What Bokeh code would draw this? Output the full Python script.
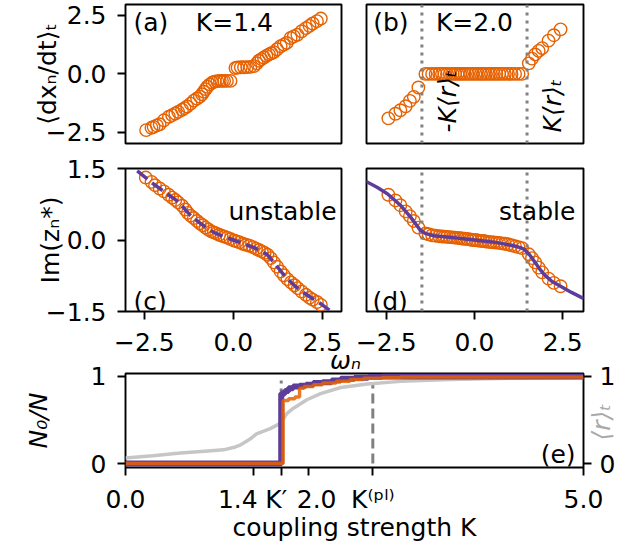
import json
import numpy as np
from bokeh.plotting import figure
from bokeh.layouts import column, row
from bokeh.models import Range1d, FixedTicker, CustomJSTickFormatter, LinearAxis
from bokeh.embed import file_html
from bokeh.resources import INLINE
from bokeh.core.properties import value

FONT = "DejaVu Sans"
FS = "25px"
ORANGE = "#e66101"
PURPLE = "#5e3c99"
GREY = "#808080"
LGREY = "#c6c6c6"

# ---------------- data ----------------
# panel (a): K = 1.4
omega_a = [-2.45, -2.30, -2.24, -2.15, -2.07, -1.95, -1.81, -1.72, -1.63, -1.55, -1.44, -1.37,
           -1.30, -1.20, -1.11, -1.02, -0.94, -0.88, -0.83, -0.78, -0.73, -0.66, -0.59, -0.52,
           -0.45, -0.38, -0.32, -0.26, -0.18, -0.08, 0.06, 0.12, 0.21, 0.30, 0.39, 0.48, 0.58,
           0.66, 0.72, 0.79, 0.86, 0.93, 1.00, 1.07, 1.14, 1.23, 1.33, 1.42, 1.50, 1.61, 1.70,
           1.80, 1.92, 2.04, 2.14, 2.23, 2.35, 2.46]
dxdt_a = [-2.40, -2.30, -2.26, -2.20, -2.15, -1.98, -1.83, -1.76, -1.69, -1.62, -1.53, -1.46,
          -1.39, -1.27, -1.14, -1.05, -0.97, -0.87, -0.76, -0.65, -0.55, -0.45, -0.37, -0.33,
          -0.31, -0.30, -0.30, -0.30, -0.30, -0.30, 0.25, 0.27, 0.28, 0.28, 0.29, 0.30, 0.33,
          0.45, 0.56, 0.63, 0.70, 0.77, 0.83, 0.88, 0.93, 1.05, 1.18, 1.25, 1.32, 1.53, 1.60,
          1.67, 1.82, 1.95, 2.05, 2.15, 2.25, 2.36]

# panels (b), (d): K = 2.0
omega_b = [-2.44, -2.24, -2.10, -1.95, -1.83, -1.72, -1.59,
           -1.39, -1.30, -1.20, -1.10, -1.00, -0.92, -0.85, -0.78, -0.70, -0.62, -0.55, -0.48,
           -0.41, -0.35, -0.28, -0.20, -0.12, -0.05, 0.03, 0.10, 0.18, 0.25, 0.32, 0.40, 0.47,
           0.55, 0.62, 0.70, 0.78, 0.86, 0.95, 1.05, 1.15, 1.25, 1.35,
           1.54, 1.63, 1.72, 1.82, 1.92, 2.10, 2.25, 2.44]
dxdt_b = [-1.90, -1.70, -1.55, -1.38, -1.15, -0.98, -0.58,
          0.0, 0.0, 0.0, 0.0, 0.0, 0.0, 0.0, 0.0, 0.0, 0.0, 0.0, 0.0,
          0.0, 0.0, 0.0, 0.0, 0.0, 0.0, 0.0, 0.0, 0.0, 0.0, 0.0, 0.0, 0.0,
          0.0, 0.0, 0.0, 0.0, 0.0, 0.0, 0.0, 0.0, 0.0, 0.0,
          0.45, 0.65, 0.83, 0.98, 1.10, 1.42, 1.65, 1.90]
im_d = [0.95, 0.83, 0.73, 0.60, 0.50, 0.40, 0.26,
        0.14, 0.12, 0.10, 0.09, 0.08, 0.075, 0.07, 0.065, 0.06, 0.055, 0.05, 0.045,
        0.04, 0.03, 0.025, 0.02, 0.01, 0.0, 0.0, -0.01, -0.02, -0.02, -0.03, -0.04, -0.045,
        -0.05, -0.055, -0.06, -0.07, -0.08, -0.09, -0.11, -0.13, -0.15, -0.17,
        -0.30, -0.38, -0.47, -0.58, -0.68, -0.81, -0.90, -0.97]
K_r_b = 1.49

# panel (c): unstable fixed point, K = 1.4
omega_c = [-2.46, -2.30, -2.20, -2.07, -1.95, -1.82, -1.72, -1.63, -1.55, -1.44, -1.35, -1.28,
           -1.20, -1.11, -1.02, -0.94, -0.86, -0.78, -0.70, -0.62, -0.55, -0.48, -0.40, -0.33,
           -0.25, -0.17, -0.08, 0.02, 0.10, 0.18, 0.27, 0.36, 0.45, 0.55, 0.64, 0.72, 0.80,
           0.88, 0.96, 1.05, 1.14, 1.23, 1.33, 1.42, 1.52, 1.62, 1.72, 1.81, 1.92, 2.04, 2.14,
           2.23, 2.35, 2.46]
im_c = [1.31, 1.22, 1.15, 1.08, 1.02, 0.95, 0.89, 0.84, 0.79, 0.72, 0.64, 0.57,
        0.51, 0.46, 0.40, 0.35, 0.31, 0.26, 0.22, 0.18, 0.16, 0.14, 0.11, 0.09,
        0.07, 0.05, 0.02, -0.01, -0.03, -0.05, -0.08, -0.10, -0.12, -0.15, -0.18, -0.21, -0.24,
        -0.27, -0.31, -0.38, -0.47, -0.56, -0.66, -0.74, -0.82, -0.89, -0.95, -1.01, -1.08, -1.15, -1.21,
        -1.25, -1.30, -1.36]
omega_cl = [-2.70, -2.50, -2.20, -1.86, -1.60, -1.40, -1.20, -1.00, -0.80, -0.55, -0.30, 0.00,
            0.30, 0.58, 0.80, 0.96, 1.14, 1.35, 1.52, 1.70, 1.90, 2.27, 2.50, 2.70]
im_cl = [1.45, 1.33, 1.15, 0.97, 0.83, 0.68, 0.51, 0.39, 0.28, 0.16, 0.08, 0.00,
         -0.08, -0.16, -0.24, -0.31, -0.47, -0.67, -0.82, -0.94, -1.07, -1.25, -1.36, -1.47]

# panel (d): stable fixed point line
omega_dl = [-3.10, -2.75, -2.47, -2.30, -2.10, -1.95, -1.81, -1.65, -1.53, -1.40, -1.15, -0.60,
            0.00, 0.60, 1.11, 1.30, 1.40, 1.55, 1.69, 1.83, 1.97, 2.20, 2.44, 2.75, 3.10]
im_dl = [1.24, 1.10, 0.97, 0.86, 0.73, 0.60, 0.48, 0.32, 0.20, 0.14, 0.09, 0.05,
         0.00, -0.05, -0.12, -0.16, -0.19, -0.30, -0.44, -0.59, -0.72, -0.87, -0.97, -1.10, -1.23]

# panel (e)
K_purple = [0.0, 1.70, 1.74, 1.78, 1.83, 1.90, 1.97, 2.05, 2.15, 2.25, 2.35, 2.50, 2.65, 2.80, 5.0]
N_purple = [0.0, 0.80, 0.83, 0.86, 0.88, 0.89, 0.90, 0.92, 0.93, 0.95, 0.97, 0.98, 0.99, 0.995, 0.995]
K_orange = [0.0, 1.72, 1.78, 1.85, 1.90, 1.95, 2.05, 2.15, 2.30, 2.45, 2.60, 2.80, 3.00, 5.0]
N_orange = [0.0, 0.72, 0.74, 0.76, 0.86, 0.88, 0.90, 0.92, 0.94, 0.96, 0.975, 0.985, 0.99, 0.99]
K_r = [0.0, 0.3, 0.6, 0.9, 1.07, 1.2, 1.25, 1.36, 1.43, 1.58, 1.69, 1.76, 1.83, 1.98, 2.13,
       2.35, 2.64, 3.0, 3.55, 4.2, 5.0]
r_t = [0.065, 0.09, 0.12, 0.145, 0.157, 0.19, 0.21, 0.28, 0.34, 0.40, 0.46, 0.57, 0.63, 0.73,
       0.80, 0.87, 0.91, 0.94, 0.96, 0.975, 0.98]
K_prime = 1.7
K_pl = 2.7
r_at_Kpl = 0.92
e_ticks = [0.0, 1.4, 1.7, 2.0, 2.7, 5.0]
# figure / thin spaces nudge the crowded labels the way the reference spreads them
e_tick_text = ["0.0", "1.4\u2007\u2007", "K′\u2009\u2009", "\u20072.0", "K⁽ᵖˡ⁾", "5.0"]
omega_ticks = [-2.5, 0.0, 2.5]
omega_tick_text = ["\u22122.5", "0.0", "2.5"]

# ---------------- layout constants ----------------
FL, FW_L, FW_R, GAP = 125, 216, 217, 25
XA = (-3.03, 3.04)
XB = (-3.06, 3.09)
YA = (-2.97, 2.96)
YC = (-1.5, 1.5)
YE = (-0.045, 1.03)
XE = (0.0, 5.0)
FW_E = 458
FH_E = 94

FMT1 = "return tick.toFixed(1).replace('-', '\u2212');"
FMT0 = "return tick.toFixed(0);"


def map_fmt(pos, txt):
    return ("const pos = %s; const txt = %s;"
            "for (let i = 0; i < pos.length; i++) { if (Math.abs(tick - pos[i]) < 1e-6) return txt[i]; }"
            "return '';") % (json.dumps(pos), json.dumps(txt, ensure_ascii=False))


def make_fig(xr, yr, fw, fh, mbl, mbr, mbt, mbb):
    p = figure(x_range=Range1d(*xr), y_range=Range1d(*yr), frame_width=fw, frame_height=fh,
               min_border_left=mbl, min_border_right=mbr, min_border_top=mbt, min_border_bottom=mbb,
               output_backend="svg", toolbar_location=None, title=None)
    p.grid.visible = False
    p.outline_line_color = "black"
    p.outline_line_width = 1.9
    p.outline_line_alpha = 1.0
    p.background_fill_color = "white"
    p.border_fill_color = "white"
    return p


def style_axis(ax, ticks, code, standoff=11):
    ax.ticker = FixedTicker(ticks=ticks, minor_ticks=[])
    ax.formatter = CustomJSTickFormatter(code=code)
    ax.axis_line_color = None
    ax.major_tick_in = 0
    ax.major_tick_out = 8
    ax.major_tick_line_width = 1.9
    ax.major_tick_line_color = "black"
    ax.minor_tick_line_color = None
    ax.major_label_text_font = FONT
    ax.major_label_text_font_size = FS
    ax.major_label_text_color = "black"
    ax.major_label_standoff = standoff
    ax.axis_label_text_font = FONT
    ax.axis_label_text_font_size = FS
    ax.axis_label_text_font_style = "normal"
    ax.axis_label_text_color = "black"


def text_axis(p, side, at, text, standoff, style="normal", color="black", orientation=None, **kw):
    # an axis carrying only one text (an axis title placed where the reference has it)
    ax = LinearAxis(**kw)
    style_axis(ax, [at], map_fmt([at], [text]), standoff=standoff)
    ax.major_tick_out = 0
    ax.major_tick_line_color = None
    ax.major_label_text_font_style = style
    ax.major_label_text_color = color
    if orientation is not None:
        ax.major_label_orientation = orientation
    p.add_layout(ax, side)
    return ax


def txt(p, x, y, s, align="left", baseline="alphabetic", style="normal", angle=0.0, color="black"):
    p.text(x=[x], y=[y], text=[s], text_font=value(FONT), text_font_size=value(FS),
           text_align=align, text_baseline=baseline, text_font_style=style, angle=angle,
           text_color=color)


def circles(p, x, y):
    p.scatter(x, y, marker="circle", size=12.5, fill_color=None, line_color=ORANGE, line_width=1.4)


def ticks_only(ax, ticks):
    style_axis(ax, ticks, "return '';", standoff=0)
    ax.major_label_text_color = None


# ---------------- panel (a) ----------------
pa = make_fig(XA, YA, FW_L, 139, FL, 12, 4, 8)
pa.xaxis.visible = False
style_axis(pa.yaxis[0], [-2.5, 0.0, 2.5], FMT1)
text_axis(pa, "left", round((YA[0] + YA[1]) / 2, 4), "⟨dxₙ/dt⟩ₜ", -19, orientation="parallel")
circles(pa, omega_a, dxdt_a)
txt(pa, -2.805, 2.205, "(a)")
txt(pa, 0.03, 2.205, "K=1.4", align="center")

# ---------------- panel (b) ----------------
pb = make_fig(XB, YA, FW_R, 139, GAP - 12, 10, 4, 8)
pb.xaxis.visible = False
pb.yaxis.visible = False
circles(pb, omega_b, dxdt_b)
for xv in (-K_r_b, K_r_b):
    pb.line([xv, xv], [YA[0], YA[1]], line_color=GREY, line_width=3, line_dash="3 5")
txt(pb, -2.87, 2.205, "(b)")
txt(pb, 0.0, 2.205, "K=2.0", align="center")
txt(pb, -0.76, -2.50, "-K⟨r⟩ₜ", style="italic", angle=np.pi / 2)
txt(pb, 2.22, -2.50, "K⟨r⟩ₜ", style="italic", angle=np.pi / 2)

# ---------------- panel (c) ----------------
pc = make_fig(XA, YC, FW_L, 143, FL, 12, 17, 14)
ticks_only(pc.xaxis[0], omega_ticks)
style_axis(pc.yaxis[0], [-1.5, 0.0, 1.5], FMT1)
text_axis(pc, "left", 0.0, "Im(zₙ*)", -22, orientation="parallel")
circles(pc, omega_c, im_c)
pc.line(omega_cl, im_cl, line_color=PURPLE, line_width=3.5, line_dash="13 6")
txt(pc, 2.90, 0.60, "unstable", align="right")
txt(pc, -2.805, -1.29, "(c)")

# ---------------- panel (d) ----------------
pd = make_fig(XB, YC, FW_R, 143, GAP - 12, 10, 17, 14)
ticks_only(pd.xaxis[0], omega_ticks)
pd.yaxis.visible = False
circles(pd, omega_b, im_d)
for xv in (-K_r_b, K_r_b):
    pd.line([xv, xv], [YC[0], YC[1]], line_color=GREY, line_width=3, line_dash="3 5")
pd.line(omega_dl, im_dl, line_color=PURPLE, line_width=3.5)
txt(pd, 2.86, 0.60, "stable", align="right")
txt(pd, -2.89, -1.29, "(d)")

# ---------------- panel (e) ----------------
pe = make_fig(XE, YE, FW_E, FH_E, FL, 53, 48, 74)
style_axis(pe.xaxis[0], e_ticks, map_fmt(e_ticks, e_tick_text), standoff=9)
pe.xaxis.axis_label = "coupling strength K"
pe.xaxis.axis_label_standoff = -4
style_axis(pe.yaxis[0], [0.0, 1.0], FMT0)
mid_e = round((YE[0] + YE[1]) / 2, 4)
text_axis(pe, "left", mid_e, "N₀/N", 35, style="italic", orientation="parallel")

pe.extra_y_ranges = {"r": Range1d(*YE)}
rax = LinearAxis(y_range_name="r")
style_axis(rax, [0.0, 1.0], FMT0, standoff=8)
pe.add_layout(rax, "right")
text_axis(pe, "right", 0.264, "⟨r⟩ₜ", -17, style="italic", color="#aaaaaa",
          orientation=float(np.pi / 2), y_range_name="r")

# shared omega_n and the tick labels of (c), (d), drawn above (e)
k_per_px = (XE[1] - XE[0]) / FW_E


def to_e(px):
    return XE[0] + (px - FL) * k_per_px


top_pos, top_txt = [], []
for xr, left, fw in ((XA, FL, FW_L), (XB, FL + FW_L + GAP, FW_R)):
    for t, s in zip(omega_ticks, omega_tick_text):
        top_pos.append(round(to_e(left + (t - xr[0]) / (xr[1] - xr[0]) * fw), 5))
        top_txt.append(s)
text_axis(pe, "above", round(to_e(345), 5), "ωₙ", -1, style="italic")
tax = LinearAxis()
style_axis(tax, top_pos, map_fmt(top_pos, top_txt), standoff=-8)
tax.major_tick_out = 0
tax.major_tick_line_color = None
pe.add_layout(tax, "above")

pe.line([K_prime, K_prime], [0.0, 1.0], line_color=GREY, line_width=3, line_dash="3 5")
pe.line([K_pl, K_pl], [0.0, r_at_Kpl], line_color=GREY, line_width=3, line_dash="10 5")
pe.line(K_r, r_t, line_color=LGREY, line_width=3.5)
pe.step(K_purple, N_purple, mode="after", line_color=PURPLE, line_width=6)
pe.step(K_orange, N_orange, mode="after", line_color=ORANGE, line_width=3.5, line_alpha=0.85)
txt(pe, 4.913, 0.104, "(e)", align="right")

layout = column(row(pa, pb), row(pc, pd), pe)
open("out.html", "w").write(file_html(layout, INLINE))
